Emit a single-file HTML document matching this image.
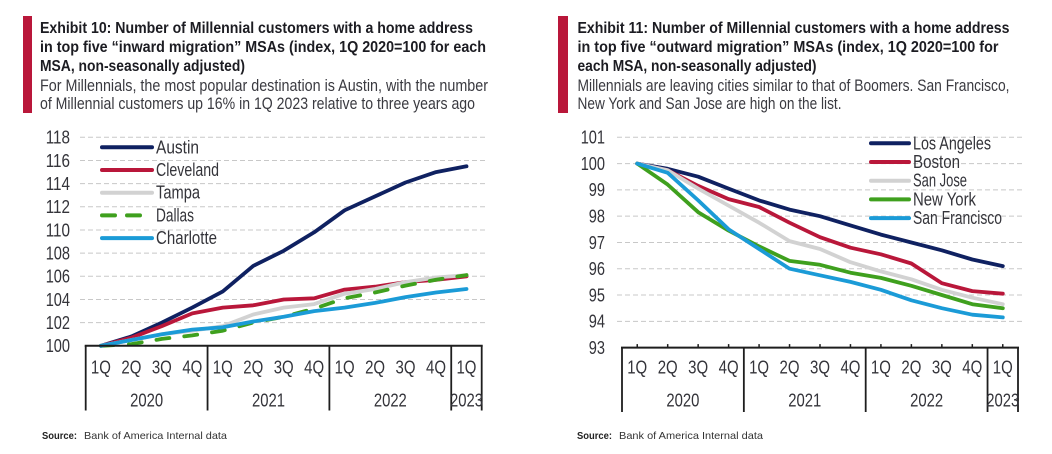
<!DOCTYPE html>
<html lang="en">
<head>
<meta charset="utf-8">
<title>Millennial customer migration exhibits</title>
<style>
html,body{margin:0;padding:0;background:#fff;width:1052px;height:454px;overflow:hidden}
svg{display:block}
text{font-family:"Liberation Sans",sans-serif}
.t{font-size:15.5px;font-weight:bold;fill:#1c1c22}
.s{font-size:16.5px;fill:#3a3a40}
.src{font-size:10.5px;fill:#333}
.srcb{font-size:10.5px;font-weight:bold;fill:#222}
</style>
</head>
<body>
<svg id="root" xmlns="http://www.w3.org/2000/svg" width="1052" height="454" viewBox="0 0 1052 454">
  <rect x="23" y="16" width="9" height="97" fill="#b9173a"/>
  <g>
    <text class="t" x="40" y="33" textLength="433" lengthAdjust="spacingAndGlyphs">Exhibit 10: Number of Millennial customers with a home address</text>
    <text class="t" x="40" y="52" textLength="446" lengthAdjust="spacingAndGlyphs">in top five “inward migration” MSAs (index, 1Q 2020=100 for each</text>
    <text class="t" x="40" y="71" textLength="205" lengthAdjust="spacingAndGlyphs">MSA, non-seasonally adjusted)</text>
    <text class="s" x="40" y="91" textLength="448" lengthAdjust="spacingAndGlyphs">For Millennials, the most popular destination is Austin, with the number</text>
    <text class="s" x="40" y="109" textLength="435" lengthAdjust="spacingAndGlyphs">of Millennial customers up 16% in 1Q 2023 relative to three years ago</text>
  </g>
  <rect x="558" y="16" width="10" height="97" fill="#b9173a"/>
  <g>
    <text class="t" x="577.5" y="33" textLength="432" lengthAdjust="spacingAndGlyphs">Exhibit 11: Number of Millennial customers with a home address</text>
    <text class="t" x="577.5" y="52" textLength="421" lengthAdjust="spacingAndGlyphs">in top five “outward migration” MSAs (index, 1Q 2020=100 for</text>
    <text class="t" x="577.5" y="71" textLength="239" lengthAdjust="spacingAndGlyphs">each MSA, non-seasonally adjusted)</text>
    <text class="s" x="577.5" y="91" textLength="432" lengthAdjust="spacingAndGlyphs">Millennials are leaving cities similar to that of Boomers. San Francisco,</text>
    <text class="s" x="577.5" y="109" textLength="264" lengthAdjust="spacingAndGlyphs">New York and San Jose are high on the list.</text>
  </g>
  <g>
    <text class="srcb" x="42" y="439" textLength="35" lengthAdjust="spacingAndGlyphs">Source:</text>
    <text class="src" x="84" y="439" textLength="143" lengthAdjust="spacingAndGlyphs">Bank of America Internal data</text>
  </g>
  <g>
    <text class="srcb" x="577" y="439" textLength="35" lengthAdjust="spacingAndGlyphs">Source:</text>
    <text class="src" x="619" y="439" textLength="144" lengthAdjust="spacingAndGlyphs">Bank of America Internal data</text>
  </g>
</svg>
<script>
var quarters = ['1Q','2Q','3Q','4Q','1Q','2Q','3Q','4Q','1Q','2Q','3Q','4Q','1Q'];
var years = ['2020','2021','2022','2023'];
var yearQuarterCounts = [4,4,4,1];

var leftTicks = [100,102,104,106,108,110,112,114,116,118];
var leftNames = ['Austin','Cleveland','Tampa','Dallas','Charlotte'];
var austin = [100,100.8,102,103.3,104.7,106.9,108.2,109.8,111.7,112.9,114.1,115,115.5];
var cleveland = [100,100.7,101.7,102.8,103.3,103.5,104,104.1,104.85,105.1,105.5,105.7,106];
var tampa = [100,100.5,101,101.3,101.7,102.7,103.3,103.6,104.5,104.9,105.5,105.9,106.1];
var dallas = [100,100.15,100.6,100.9,101.3,102,102.5,103.2,104.1,104.6,105.2,105.7,106.1];
var charlotte = [100,100.5,101,101.4,101.6,102.1,102.5,103,103.3,103.7,104.2,104.6,104.9];

var rightTicks = [93,94,95,96,97,98,99,100,101];
var rightNames = ['Los Angeles','Boston','San Jose','New York','San Francisco'];
var losAngeles = [100,99.8,99.5,99.05,98.6,98.25,98,97.65,97.3,97,96.7,96.35,96.1];
var boston = [100,99.75,99.15,98.65,98.35,97.75,97.2,96.8,96.55,96.2,95.45,95.15,95.05];
var sanJose = [100,99.75,99.05,98.4,97.75,97.05,96.75,96.25,95.9,95.6,95.2,94.9,94.65];
var newYork = [100,99.2,98.15,97.45,96.85,96.3,96.15,95.85,95.65,95.35,95,94.65,94.5];
var sanFrancisco = [100,99.65,98.6,97.5,96.75,96,95.75,95.5,95.2,94.8,94.5,94.25,94.15];

var NS = 'http://www.w3.org/2000/svg';
var root = document.getElementById('root');

function make(tag, attrs, parent, name) {
  var el = document.createElementNS(NS, tag);
  for (var k in attrs) { el.setAttribute(k, attrs[k]); }
  
  
  parent.appendChild(el);
  return el;
}

function label(parent, name, str, x, y, size, len, anchor, fill) {
  var el = make('text', {
    x: x, y: y, 'font-size': size, fill: fill || '#34343a',
    'text-anchor': anchor || 'start', textLength: len, lengthAdjust: 'spacingAndGlyphs'
  }, parent, name);
  el.textContent = str;
  return el;
}

function drawChart(c) {
  var g = make('g', {}, root, c.id + '-chart');
  var catW = c.axisWidth / quarters.length;
  function xAt(i) { return c.axisLeft + catW * (i + 0.5); }
  function yAt(v) { return c.yTop + (c.yMax - v) * (c.yBottom - c.yTop) / (c.yMax - c.yMin); }

  c.ticks.forEach(function (t) {
    if (t !== c.yMin) {
      make('line', { x1: c.gridLeft, x2: c.gridRight, y1: yAt(t), y2: yAt(t), stroke: '#c8c8c8', 'stroke-width': 1, 'stroke-dasharray': '5 3' }, g, 'gridline-' + t);
    }
    label(g, 'y-tick-' + t, String(t), c.tickRight, yAt(t) + 6.3, 18.5, String(t).length * 8.1, 'end');
  });

  c.series.forEach(function (s) {
    var pts = s.values.map(function (v, i) { return xAt(i).toFixed(1) + ',' + yAt(v).toFixed(1); }).join(' ');
    var a = { points: pts, fill: 'none', stroke: s.color, 'stroke-width': 3.8, 'stroke-linejoin': 'round', 'stroke-linecap': 'round' };
    if (s.dash) { a['stroke-dasharray'] = s.dash; }
    make('polyline', a, g, 'series-' + s.name.toLowerCase().replace(/ /g, '-'));
  });

  c.series.forEach(function (s, i) {
    var ly = c.legendY + i * c.legendStep;
    var slug = s.name.toLowerCase().replace(/ /g, '-');
    var a = { x1: c.legendX1, x2: c.legendX2, y1: ly, y2: ly, stroke: s.color, 'stroke-width': 4, 'stroke-linecap': 'round' };
    if (s.dash) { a['stroke-dasharray'] = '13 12'; }
    make('line', a, g, 'legend-swatch-' + slug);
    label(g, 'legend-label-' + slug, s.name, c.legendText, ly + 6, 18, s.labelW);
  });

  var ax = make('g', { stroke: '#1e1e1e', fill: 'none' }, g, 'x-axis');
  make('line', { x1: c.axisLeft - 1, x2: c.axisLeft + c.axisWidth + 1, y1: c.yBottom, y2: c.yBottom, 'stroke-width': 2 }, ax, 'x-axis-line');
  if (c.tickMarks) {
    quarters.forEach(function (q, i) {
      make('line', { x1: xAt(i), x2: xAt(i), y1: c.yBottom - 3.5, y2: c.yBottom, 'stroke-width': 1.5 }, ax, 'x-tick-mark-' + i);
    });
  }
  var pos = 0;
  make('line', { x1: c.axisLeft, x2: c.axisLeft, y1: c.yBottom, y2: c.axisBottom, 'stroke-width': 1.8 }, ax, 'year-divider-start');
  years.forEach(function (y, i) {
    var start = pos;
    pos += yearQuarterCounts[i];
    var dx = c.axisLeft + pos * catW;
    make('line', { x1: dx, x2: dx, y1: c.yBottom, y2: c.axisBottom, 'stroke-width': 1.8 }, ax, 'year-divider-' + y);
    label(g, 'year-label-' + y, y, c.axisLeft + (start + pos) / 2 * catW, 406.5, 18.5, 33, 'middle');
  });
  quarters.forEach(function (q, i) {
    label(g, 'quarter-label-' + i, q, xAt(i), 373.5, 18.5, 20, 'middle');
  });
}

drawChart({
  id: 'left', axisLeft: 85.7, axisWidth: 396, axisBottom: 410.5, yTop: 137.3, yBottom: 345.8,
  yMin: 100, yMax: 118, ticks: leftTicks, tickRight: 70, gridLeft: 80, gridRight: 487, tickMarks: false,
  legendX1: 102, legendX2: 152, legendY: 147.3, legendStep: 22.7, legendText: 156,
  series: [
    { name: leftNames[0], values: austin, color: '#0f2161', labelW: 43 },
    { name: leftNames[1], values: cleveland, color: '#b9173a', labelW: 63 },
    { name: leftNames[2], values: tampa, color: '#d2d2d2', labelW: 44 },
    { name: leftNames[3], values: dallas, color: '#3fa01e', dash: '13 15', labelW: 38 },
    { name: leftNames[4], values: charlotte, color: '#1b9bd7', labelW: 61 }
  ]
});

drawChart({
  id: 'right', axisLeft: 622, axisWidth: 396, axisBottom: 412, yTop: 137.3, yBottom: 347.6,
  yMin: 93, yMax: 101, ticks: rightTicks, tickRight: 605, gridLeft: 617, gridRight: 1023, tickMarks: true,
  legendX1: 871, legendX2: 909, legendY: 143.3, legendStep: 18.7, legendText: 913,
  series: [
    { name: rightNames[0], values: losAngeles, color: '#0f2161', labelW: 78 },
    { name: rightNames[1], values: boston, color: '#b9173a', labelW: 47 },
    { name: rightNames[2], values: sanJose, color: '#d2d2d2', labelW: 54 },
    { name: rightNames[3], values: newYork, color: '#3fa01e', labelW: 63 },
    { name: rightNames[4], values: sanFrancisco, color: '#1b9bd7', labelW: 89 }
  ]
});
</script>
</body>
</html>
